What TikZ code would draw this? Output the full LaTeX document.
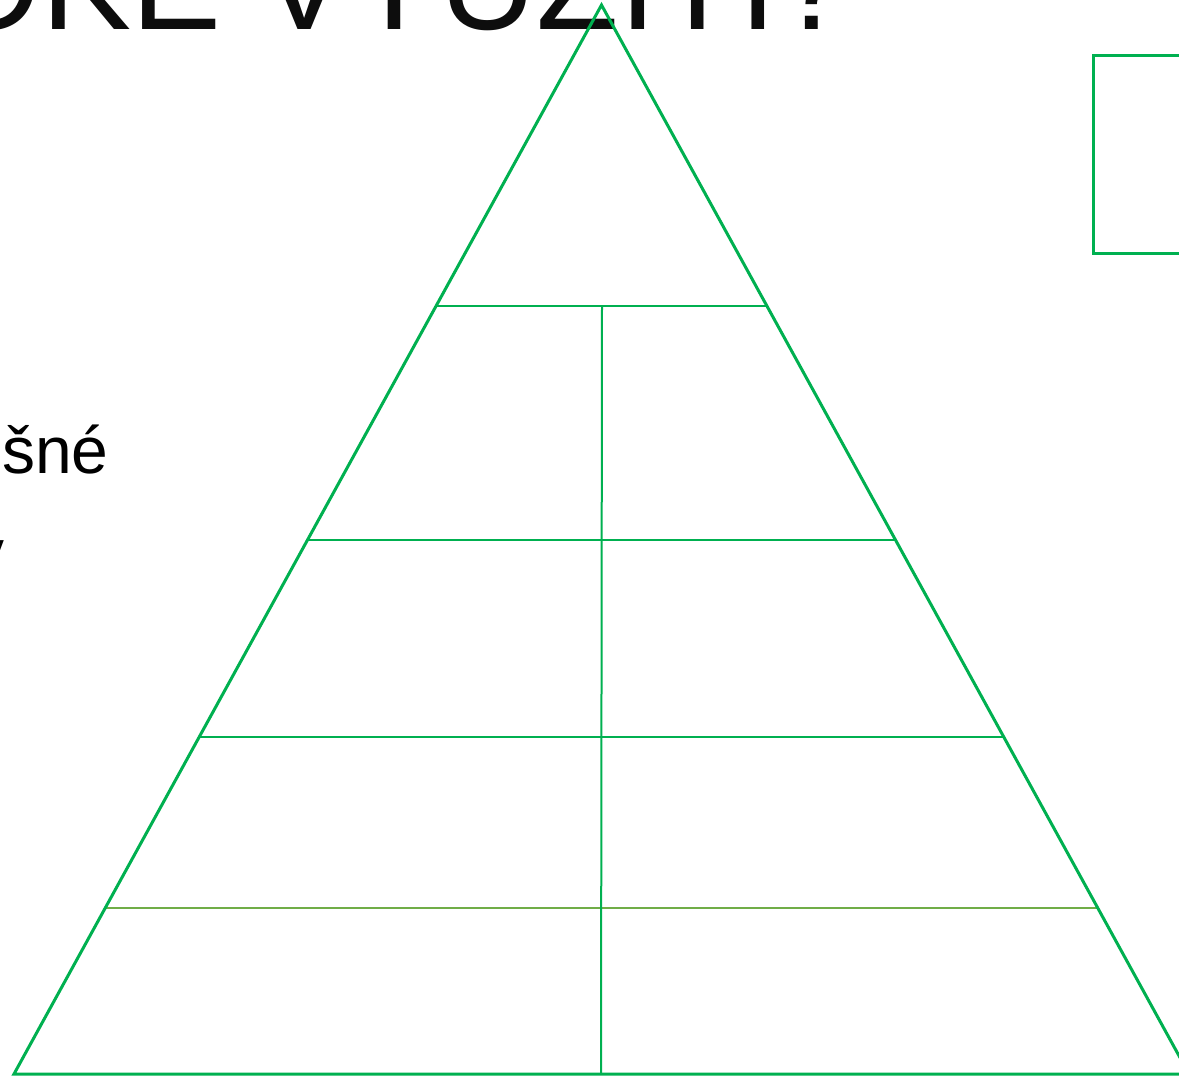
\documentclass[tikz,border=0pt]{standalone}
\usepackage{fontspec}
\setmainfont{Liberation Sans}
\definecolor{pgreen}{HTML}{00B050}
\definecolor{lgreen}{HTML}{70AD47}
\definecolor{ink}{HTML}{0D0D0D}
\begin{document}
\begin{tikzpicture}[x=1pt,y=-1pt,
  outline/.style={draw=pgreen,line width=3pt,line join=miter},
  divider/.style={draw=pgreen,line width=2pt},
  bigtitle/.style={anchor=base east,inner sep=0pt,text=ink,font=\fontsize{135}{140}\selectfont},
  sidetext/.style={inner sep=0pt,text=black,font=\fontsize{66}{78}\selectfont}]
\useasboundingbox (0,0) rectangle (1179,1076);
\begin{scope}
\clip (0,0) rectangle (1179,1076);
% text fragments
\node[bigtitle] (title) at (852,30) {OKÉ VYUŽITÍ?};
\node[sidetext,anchor=base west] (side1) at (2,473) {šné};
\node[sidetext,anchor=base east] (side2) at (5,575) {v};
% pyramid corners
\coordinate (apex) at (601.5,5);
\coordinate (bl) at (14,1074);
\coordinate (br) at (1189,1074);
% tier ends
\coordinate (l1) at (436,306);  \coordinate (r1) at (767,306);
\coordinate (l2) at (307,540);  \coordinate (r2) at (896,540);
\coordinate (l3) at (199,737);  \coordinate (r3) at (1004,737);
\coordinate (l4) at (105,908);  \coordinate (r4) at (1097,908);
\coordinate (vt) at (602,306);  \coordinate (vb) at (601,1074);
% dividers
\draw[divider] (l1) -- (r1);
\draw[divider] (l2) -- (r2);
\draw[divider] (l3) -- (r3);
\draw[divider,draw=lgreen] (l4) -- (r4);
\draw[divider] (vt) -- (vb);
% outline
\draw[outline] (bl) -- (apex) -- (br) -- cycle;
% box at right
\coordinate (boxtl) at (1093,55);
\coordinate (boxbr) at (1210,253);
\draw[outline] (boxtl) rectangle (boxbr);
\end{scope}
\end{tikzpicture}
\end{document}
